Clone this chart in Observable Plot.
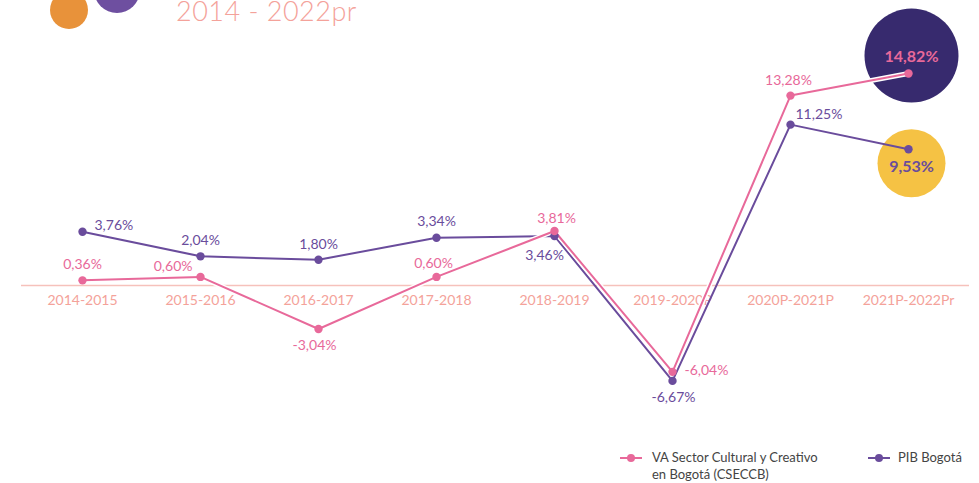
<!DOCTYPE html>
<html><head><meta charset="utf-8">
<script src="https://cdn.jsdelivr.net/npm/d3@7"></script>
<script src="https://cdn.jsdelivr.net/npm/@observablehq/plot@0.6"></script>
<style>
body{margin:0;background:#fff;font-family:Lato,"Open Sans",sans-serif;}
#wrap{position:relative;width:979px;height:483px;overflow:hidden;}
#chart{position:absolute;left:0;top:0;}
.deco{position:absolute;border-radius:50%;}
#title{position:absolute;left:176px;top:1px;font-size:27px;line-height:20px;font-weight:300;color:#f4a29a;white-space:nowrap;letter-spacing:0.5px;}
.leg{position:absolute;font-size:13px;line-height:17px;color:#444;}
.mk{position:absolute;width:22px;height:2px;}
.mk i{position:absolute;left:7px;top:-3px;width:8px;height:8px;border-radius:50%;}
</style></head><body>
<div id="wrap">
  <div class="deco" style="left:50px;top:-9px;width:38px;height:38px;background:#e8923a"></div>
  <div class="deco" style="left:94px;top:-33px;width:46px;height:46px;background:#6e4fa0"></div>
  <div id="title">2014 - 2022pr</div>
  <div id="chart"></div>
  <div class="mk" style="left:620px;top:457px;background:#e8699a"><i style="background:#e8699a"></i></div>
  <div class="leg" style="left:652px;top:449px">VA Sector Cultural y Creativo<br>en Bogotá (CSECCB)</div>
  <div class="mk" style="left:868px;top:457px;background:#6a4c9c"><i style="background:#6a4c9c"></i></div>
  <div class="leg" style="left:898px;top:449px">PIB Bogotá</div>
</div>
<script>
const periods = ["2014-2015","2015-2016","2016-2017","2017-2018","2018-2019","2019-2020P","2020P-2021P","2021P-2022Pr"];
const cultural = [0.36, 0.60, -3.04, 0.60, 3.81, -6.04, 13.28, 14.82];
const pib = [3.76, 2.04, 1.80, 3.34, 3.46, -6.67, 11.25, 9.53];

// label placement (style only)
const culturalPlace = [
  {dx:0,dy:-16,a:"middle"},{dx:-8,dy:-10,a:"end"},{dx:-4,dy:17,a:"middle"},{dx:-3,dy:-13,a:"middle"},
  {dx:2,dy:-13,a:"middle"},{dx:12,dy:-1,a:"start"},{dx:-2,dy:-15,a:"middle"},null];
const pibPlace = [
  {dx:12,dy:-6,a:"start"},{dx:0,dy:-16,a:"middle"},{dx:0,dy:-15,a:"middle"},{dx:0,dy:-16,a:"middle"},
  {dx:-10,dy:19,a:"middle"},{dx:1,dy:17,a:"middle"},{dx:5,dy:-10,a:"start"},null];

const PINK="#e8699a", PURPLE="#6a4c9c", NAVY="#372a6e", YELLOW="#f5c244", SALMON="#f4a29a";
const fmt = v => v.toFixed(2).replace(".", ",") + "%";
const cData = periods.map((p,i)=>({p, v:cultural[i], lab:fmt(cultural[i]), pl:culturalPlace[i]}));
const pData = periods.map((p,i)=>({p, v:pib[i], lab:fmt(pib[i]), pl:pibPlace[i]}));
const lastC = cData[cData.length-1], lastP = pData[pData.length-1];

const labelMarks = (data, color) => ["start","middle","end"].flatMap(a =>
  data.filter(d=>d.pl && d.pl.a===a).map(d => Plot.text([d], {x:"p", y:"v", text:"lab", fill:color,
    dx:d.pl.dx, dy:d.pl.dy, textAnchor:a, fontSize:14})));

const chart = Plot.plot({
  width:979, height:483,
  marginLeft:21, marginRight:10, marginTop:0, marginBottom:0,
  style:{fontFamily:"Lato, 'Open Sans', sans-serif", background:"transparent"},
  x:{type:"point", domain:periods, range:[79, 910], padding:0, axis:null},
  y:{domain:[-7,15], range:[385.1, 70.5], axis:null},
  marks:[
    Plot.ruleY([0], {stroke:"#f6c1bb", strokeWidth:1.5}),
    Plot.text(periods, {x:d=>d, y:()=>0, dy:15, fill:SALMON, fontSize:14, text:d=>d}),
    Plot.dot([lastC], {x:"p", y:"v", r:47, fill:NAVY, dx:3, dy:-18}),
    Plot.dot([lastP], {x:"p", y:"v", r:34, fill:YELLOW, dx:3, dy:14}),
    Plot.line(pData, {x:"p", y:"v", stroke:PURPLE, strokeWidth:2}),
    Plot.line(cData, {x:"p", y:"v", stroke:"#fff", strokeWidth:5}),
    Plot.line(cData, {x:"p", y:"v", stroke:PINK, strokeWidth:2}),
    Plot.dot(pData, {x:"p", y:"v", r:4.2, fill:PURPLE}),
    Plot.dot(cData, {x:"p", y:"v", r:4.2, fill:PINK}),
    ...labelMarks(pData, PURPLE),
    ...labelMarks(cData, PINK),
    Plot.text([lastC], {x:"p", y:"v", text:"lab", fill:PINK, fontWeight:"bold", fontSize:16, dx:3, dy:-17}),
    Plot.text([lastP], {x:"p", y:"v", text:"lab", fill:PURPLE, fontWeight:"bold", fontSize:16, dx:3, dy:18})
  ]
});
document.getElementById("chart").appendChild(chart);
</script>
</body></html>
